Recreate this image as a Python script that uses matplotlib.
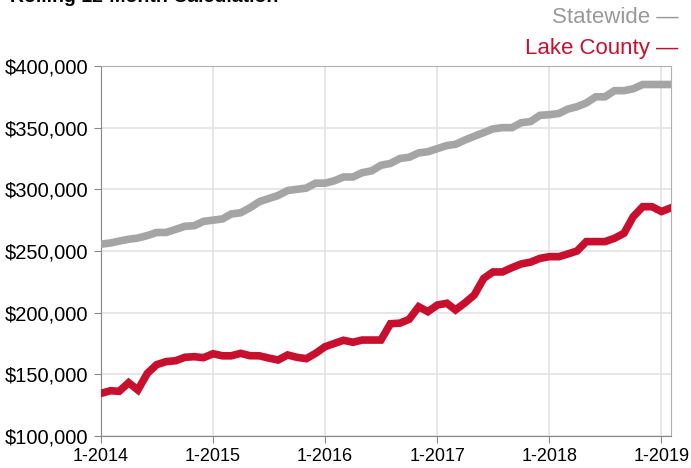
import numpy as np
import pandas as pd
import matplotlib
matplotlib.use("Agg")
import matplotlib.pyplot as plt
from matplotlib.ticker import FuncFormatter

plt.rcParams['font.family'] = ['Liberation Sans', 'DejaVu Sans']

# monthly values, 1-2014 .. 2-2019, in thousands of dollars
months = pd.date_range("2014-01-01", "2019-02-01", freq="MS")
statewide = [255.5, 256.5, 258, 259.5, 260.5, 262.5, 265, 265, 267.5, 270, 270.5, 274,
             275, 276, 280, 281, 285, 290, 292.5, 295, 299, 300, 301, 305,
             305, 307, 310, 310, 313.5, 315, 319.5, 321, 325, 326, 329.5, 330.5,
             333, 335.5, 336.5, 340, 343, 346, 349, 350, 350, 354, 355, 360,
             360.5, 361.5, 365, 367, 370, 375, 375, 380, 380, 381.5, 385, 385,
             385, 385]
lake_county = [134.6, 136.7, 136.2, 143.2, 137.3, 150.8, 157.8, 160.3, 161, 163.8, 164.3, 163.5,
               166.7, 165, 165, 167, 165.1, 165, 163.2, 161.6, 165.7, 163.8, 162.7, 167,
               172.4, 175.1, 177.6, 176, 177.8, 177.8, 177.8, 191, 191.5, 194.6, 204.8, 200.8,
               206.2, 207.6, 202.2, 208, 214.3, 227.8, 233, 233, 236.5, 239.5, 241, 244,
               245.4, 245.4, 247.5, 250, 257.6, 257.6, 257.6, 260.3, 264.4, 277.8, 285.9, 285.9,
               282, 285]
x_ticks = pd.to_datetime(["2014-01-01", "2015-01-01", "2016-01-01", "2017-01-01", "2018-01-01", "2019-01-01"])
x_labels = ["1-2014", "1-2015", "1-2016", "1-2017", "1-2018", "1-2019"]

gray = "#a5a5a5"
red = "#c8102e"

fig = plt.figure(figsize=(6.91, 4.68), dpi=100)
ax = fig.add_axes([0.1462, 0.0684, 0.8248, 0.7906])

ax.plot(months, np.array(statewide) * 1000, color=gray, lw=5.5, solid_joinstyle="miter", zorder=3)
ax.plot(months, np.array(lake_county) * 1000, color=red, lw=5.5, solid_joinstyle="miter", zorder=3)

ax.set_xlim(months[0], months[-1])
ax.set_ylim(100000, 400000)
ax.set_yticks(np.arange(100000, 400001, 50000))
ax.yaxis.set_major_formatter(FuncFormatter(lambda v, p: "${:,.0f}".format(v)))
ax.set_xticks(x_ticks)
ax.set_xticklabels(x_labels)

ax.grid(True, color="#e3e3e3", lw=1.2)
ax.set_axisbelow(True)
for s in ["left", "bottom"]:
    ax.spines[s].set_color("#888888")
for s in ["top", "right"]:
    ax.spines[s].set_color("#b0b0b0")
ax.tick_params(axis="both", colors="#888888", labelcolor="black", length=5)
ax.tick_params(axis="x", labelsize=13, pad=4)
ax.tick_params(axis="y", labelsize=14.5, pad=4)

fig.text(0.015, 0.996, "Rolling 12-Month Calculation", fontsize=14, fontweight="bold",
         ha="left", va="baseline")
fig.text(0.982, 0.962, "Statewide \u2014", color="#999999", fontsize=16, ha="right", va="center")
fig.text(0.982, 0.897, "Lake County \u2014", color=red, fontsize=16, ha="right", va="center")

fig.savefig("out.png", dpi=100)
